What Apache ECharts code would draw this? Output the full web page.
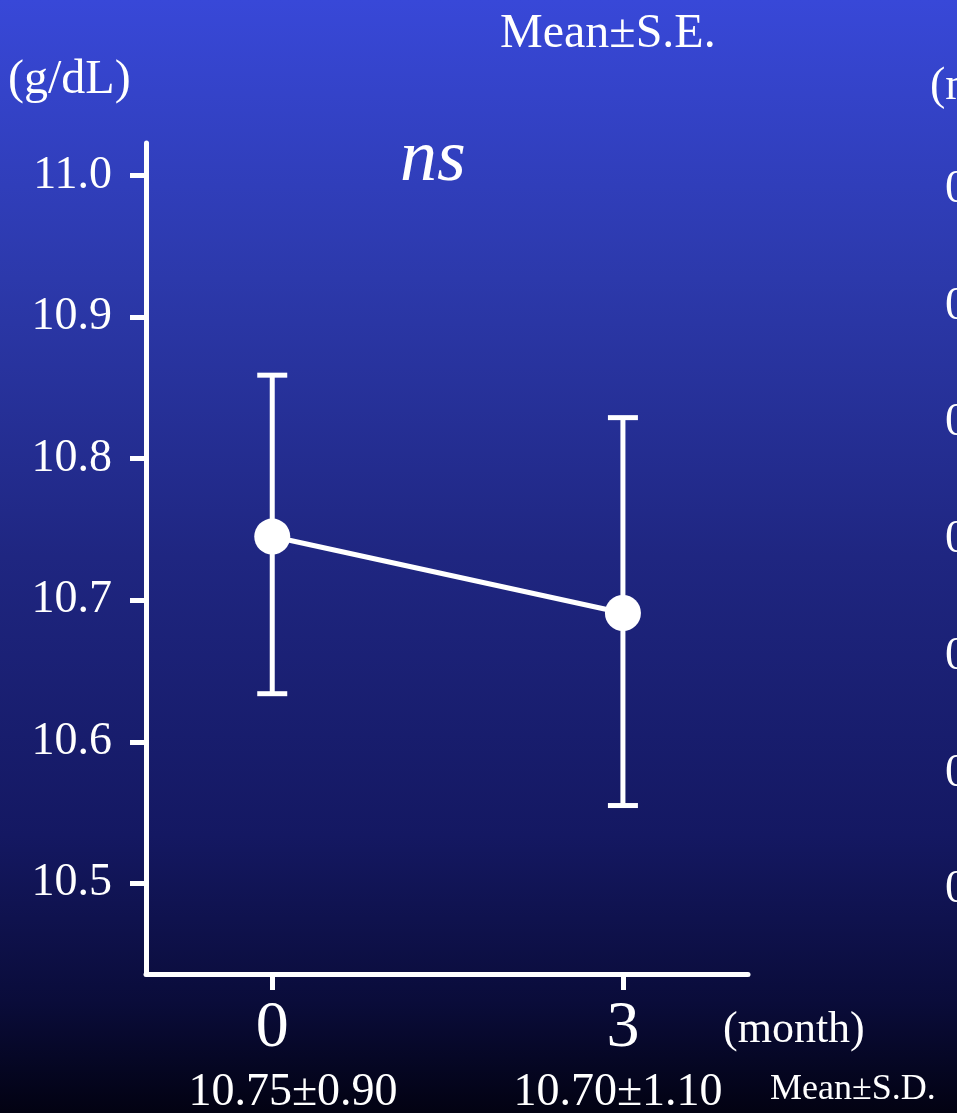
<!DOCTYPE html>
<html>
<head>
<meta charset="utf-8">
<script src="https://cdn.jsdelivr.net/npm/echarts@6.0.0/dist/echarts.min.js"></script>
<style>
html, body { margin: 0; padding: 0; background: #000; }
#main { width: 957px; height: 1113px; }
</style>
</head>
<body>
<div id="main"></div>
<script>
// data
var months = [0, 3];
var means = [10.745, 10.691];
var seUpper = [10.859, 10.829];
var seLower = [10.634, 10.555];
var sdLabels = ['10.75±0.90', '10.70±1.10'];
var yTicks = [10.5, 10.6, 10.7, 10.8, 10.9, 11.0];
// tick labels of the next panel, cut off at the right edge
var sideTicks = ['0.7', '0.6', '0.5', '0.4', '0.3', '0.2', '0.1'];

var FONT = '"Liberation Serif", "DejaVu Serif", serif';
var chart = echarts.init(document.getElementById('main'));

var graphics = [
    {type: 'text', left: 8, top: 56, style: {text: '(g/dL)', fill: '#fff', font: '48px ' + FONT}},
    {type: 'text', left: 500, top: 10, style: {text: 'Mean±S.E.', fill: '#fff', font: '48px ' + FONT}},
    {type: 'text', left: 400, top: 124, style: {text: 'ns', fill: '#fff', font: 'italic 74px ' + FONT}},
    {type: 'text', left: 723, top: 1008, style: {text: '(month)', fill: '#fff', font: '44px ' + FONT}},
    {type: 'text', left: 770, top: 1072, style: {text: 'Mean±S.D.', fill: '#fff', font: '36px ' + FONT}},
    {type: 'text', left: 930, top: 64, style: {text: '(mg/dL)', fill: '#fff', font: '46px ' + FONT}}
];
sdLabels.forEach(function (s, i) {
    graphics.push({type: 'text', x: [293, 618][i], y: 1093,
        style: {text: s, fill: '#fff', font: '46px ' + FONT, align: 'center', verticalAlign: 'middle'}});
});
sideTicks.forEach(function (s, i) {
    graphics.push({type: 'text', x: 945, y: 190 + i * 116.7,
        style: {text: s, fill: '#fff', font: '46px ' + FONT, verticalAlign: 'middle'}});
});

option = {
    backgroundColor: new echarts.graphic.LinearGradient(0, 0, 0, 1, [
        {offset: 0, color: '#3848d8'},
        {offset: 0.25, color: '#2c39ab'},
        {offset: 0.5, color: '#1f2681'},
        {offset: 0.75, color: '#141862'},
        {offset: 0.9, color: '#0a0c3a'},
        {offset: 1, color: '#020212'}
    ]),
    animation: false,
    grid: {left: 146, right: 209, top: 143, bottom: 139},
    xAxis: {
        type: 'value',
        min: -1.08,
        max: 4.07,
        splitLine: {show: false},
        axisLine: {onZero: false, lineStyle: {color: '#fff', width: 5}},
        axisTick: {show: true, customValues: months, length: 16, lineStyle: {color: '#fff', width: 5}},
        axisLabel: {customValues: months, color: '#fff', fontSize: 66, fontFamily: FONT, margin: 22}
    },
    yAxis: {
        type: 'value',
        min: 10.436,
        max: 11.023,
        splitLine: {show: false},
        axisLine: {show: true, onZero: false, lineStyle: {color: '#fff', width: 5}},
        axisTick: {show: true, customValues: yTicks, length: 16, lineStyle: {color: '#fff', width: 5}},
        axisLabel: {
            customValues: yTicks, color: '#fff', fontSize: 46, fontFamily: FONT, margin: 34,
            formatter: function (v) { return v.toFixed(1); }
        }
    },
    graphic: graphics,
    series: [
        {
            type: 'custom',
            data: months.map(function (m, i) { return [m, seUpper[i], seLower[i]]; }),
            encode: {x: 0, y: [1, 2]},
            z: 2,
            renderItem: function (params, api) {
                var hi = api.coord([api.value(0), api.value(1)]);
                var lo = api.coord([api.value(0), api.value(2)]);
                var st = {stroke: '#fff', lineWidth: 5};
                return {
                    type: 'group',
                    children: [
                        {type: 'line', shape: {x1: hi[0], y1: hi[1], x2: lo[0], y2: lo[1]}, style: st},
                        {type: 'line', shape: {x1: hi[0] - 15, y1: hi[1], x2: hi[0] + 15, y2: hi[1]}, style: st},
                        {type: 'line', shape: {x1: lo[0] - 15, y1: lo[1], x2: lo[0] + 15, y2: lo[1]}, style: st}
                    ]
                };
            }
        },
        {
            type: 'line',
            data: months.map(function (m, i) { return [m, means[i]]; }),
            z: 3,
            symbol: 'circle',
            symbolSize: 36,
            itemStyle: {color: '#fff'},
            lineStyle: {color: '#fff', width: 5}
        }
    ]
};

chart.setOption(option);
</script>
</body>
</html>
